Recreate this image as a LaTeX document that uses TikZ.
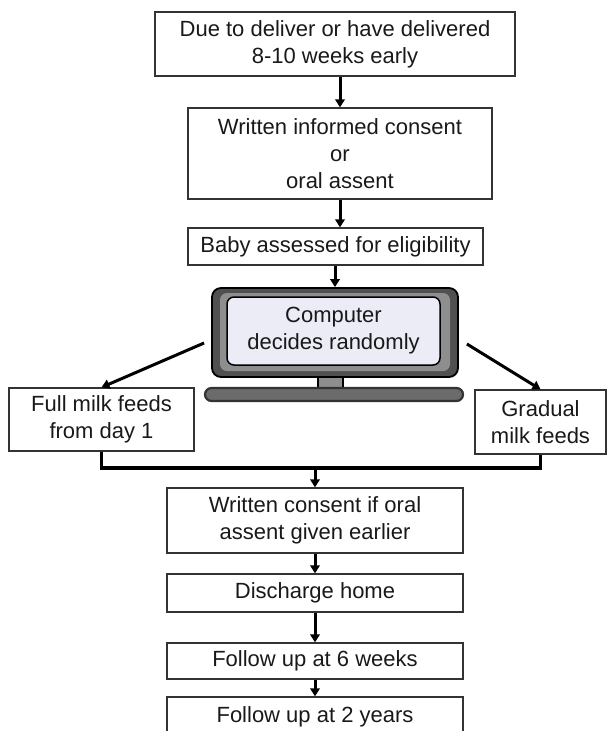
\documentclass[tikz,border=0pt]{standalone}
\usepackage{fontspec}
\setmainfont{Liberation Sans}
\usetikzlibrary{arrows.meta,positioning}
\definecolor{framegray}{HTML}{505050}
\definecolor{bandgray}{HTML}{8E8E8E}
\definecolor{screenblue}{HTML}{ECECF7}

\begin{document}
\begin{tikzpicture}[x=1pt,y=-1pt]
		\tikzstyle{stage}=[draw=black!80,line width=1.3pt,align=center,inner sep=0pt,text=black!90,font=\fontsize{22}{27}\selectfont]
		\tikzstyle{flow}=[line width=3pt,-{Triangle[width=9.5pt,length=8pt]}]
		\tikzstyle{merge}=[line width=3.2pt]
		\tikzstyle{monitor}=[draw=black,line width=1.8pt,fill=framegray,rounded corners=9pt,inner sep=0pt]
		\tikzstyle{screen}=[stage,draw=black,line width=1.5pt,fill=screenblue,rounded corners=7pt]
		\tikzstyle{neck}=[draw=black,line width=1.4pt,fill=bandgray]
		\tikzstyle{base}=[draw=black!80,line width=2.2pt,fill=black!58,rounded corners=6.5pt]
		
		\useasboundingbox (0,0) rectangle (606,731);
		
		\node[stage, minimum width=360pt, minimum height=64pt] (due) at (335,44) {Due to deliver or have delivered\\8-10 weeks early};
		\node[stage, minimum width=304pt, minimum height=91pt] (consent) at (340,153.5) {Written informed consent\\or\\oral assent};
		\node[stage, minimum width=295pt, minimum height=37pt] (elig) at (335.5,246.5) {Baby assessed for eligibility};
		\draw [flow] (due.south -| consent.north) -- (consent.north);
		\draw [flow] (consent.south) -- (consent.south |- elig.north);
		
		% computer
		\node[monitor, minimum width=246pt, minimum height=89pt] (monitor) at (335,332.5) {};
		\fill [bandgray, rounded corners=7pt] (220,293) rectangle (450,371);
		\node[screen, minimum width=213pt, minimum height=68pt] (rand) at (333.5,331) {Computer\\decides randomly};
		\draw [neck] (318,377) rectangle (343,390);
		\draw [base] (205,388) rectangle (463,401);
		\draw [flow] (elig.south -| monitor.north) -- (monitor.north);
		
		\node[stage, minimum width=185pt, minimum height=63pt] (full) at (101.5,419.5) {Full milk feeds\\from day 1};
		\node[stage, minimum width=131pt, minimum height=64pt] (gradual) at (540.5,422) {Gradual\\milk feeds};
		\draw [flow] ([shift={(-7,10.5)}]monitor.west) -- (full.north);
		\draw [flow] ([shift={(8,11.5)}]monitor.east) -- (gradual.north);
		
		\coordinate (split) at (315,468);
		\draw [merge] (full.south) |- (split) -| (gradual.south);
		
		\node[stage, minimum width=296pt, minimum height=65pt] (written) at (315,520.5) {Written consent if oral\\assent given earlier};
		\node[stage, minimum width=296pt, minimum height=38pt] (discharge) at (315,593) {Discharge home};
		\node[stage, minimum width=296pt, minimum height=36pt] (six) at (315,661) {Follow up at 6 weeks};
		\node[stage, minimum width=296pt, minimum height=40pt] (two) at (315,717) {Follow up at 2 years};
		\draw [flow] (split) -- (written.north);
		\draw [flow] (written.south) -- (discharge.north);
		\draw [flow] (discharge.south) -- (six.north);
		\draw [flow] (six.south) -- (two.north);
\end{tikzpicture}
\end{document}
